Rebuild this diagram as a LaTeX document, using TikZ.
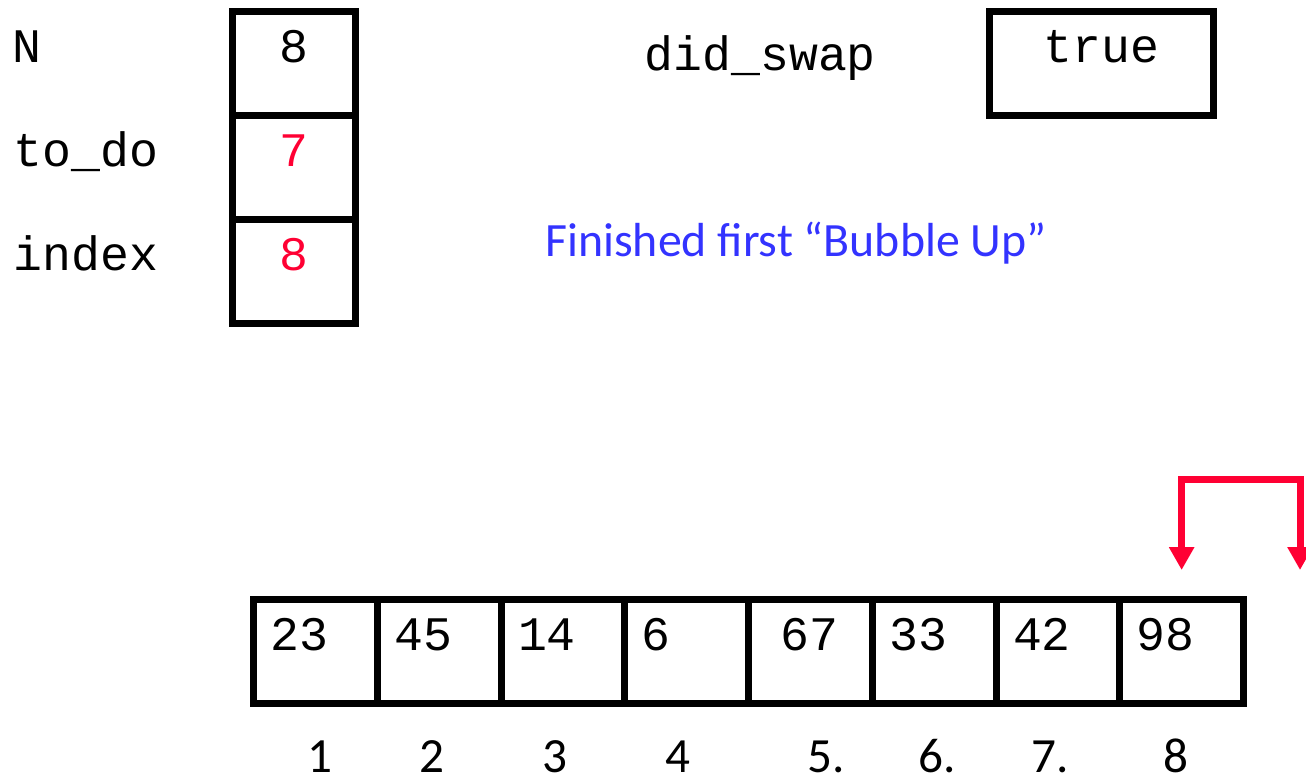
\documentclass[tikz,border=0pt]{standalone}
\usepackage{fontspec}
\setmainfont{Carlito}
\newfontfamily\monofont{Liberation Mono}
\usetikzlibrary{positioning,arrows.meta,calc}
\definecolor{hot}{HTML}{FF0033}
\definecolor{note}{HTML}{3333FF}
\tikzset{
  slot/.style={draw=black,line width=0.07cm,inner xsep=0pt,inner ysep=0pt,outer sep=0pt,
               text height=0.51cm,text depth=0.53cm,font=\monofont\fontsize{13.7}{16}\selectfont},
  varname/.style={anchor=base west,inner sep=0pt,font=\monofont\fontsize{13.7}{16}\selectfont},
  cell/.style={slot,minimum width=1.2375cm,text width=0.8975cm,inner xsep=0.17cm,align=left},
  idxnum/.style={anchor=base,inner sep=0pt,font=\fontsize{14}{17}\selectfont},
  swaparrow/.style={{Triangle[width=0.24cm,length=0.23cm]}-{Triangle[width=0.24cm,length=0.23cm]},
                    line width=0.07cm,color=hot},
}
\begin{document}
\begin{tikzpicture}
  \useasboundingbox (0,0) rectangle (13.06,-7.78);
  \node[slot,minimum width=1.23cm] (nbox) at (2.94,-0.63) {8};
  \node[slot,minimum width=1.23cm,below=0pt of nbox,text=hot] (todobox) {7};
  \node[slot,minimum width=1.23cm,below=0pt of todobox,text=hot] (idxbox) {8};
  \node[varname] (nlab) at (0.12,0 |- nbox.base) {N};
  \node[varname] (todolab) at (0.13,0 |- todobox.base) {to\_do};
  \node[varname] (idxlab) at (0.13,0 |- idxbox.base) {index};
  \node[varname] (swaplab) at (6.44,-0.705) {did\_swap};
  \node[slot,minimum width=2.24cm] (swapbox) at (11.015,-0.63) {true};
  \node[anchor=base,inner sep=0pt,text=note,font=\fontsize{13.6}{16}\selectfont] (msg)
    at (7.96,-2.565) {Finished first “Bubble Up”};
  \foreach \i/\v/\lab/\dx in {1/23/1/0.05,2/45/2/-0.07,3/14/3/-0.08,4/6/4/-0.09,
      5/{\hspace{0.15cm}67}/5./0.16,6/33/6./0.03,7/42/7./-0.08,8/98/8/-0.06}{
    \node[cell] (c\i) at ({2.535+1.2375*(\i-0.5)},-6.51) {\v};
    \node[idxnum] (p\i) at ($(c\i.center)+(\dx,-1.21)$) {\lab};
  }
  \coordinate (drop) at ($(c8.north)+(0,0.29)$);
  \coordinate (past) at (13.00,-5.70);
  \draw[swaparrow] (drop) -- ++(0,0.91) -| (past);
\end{tikzpicture}
\end{document}
